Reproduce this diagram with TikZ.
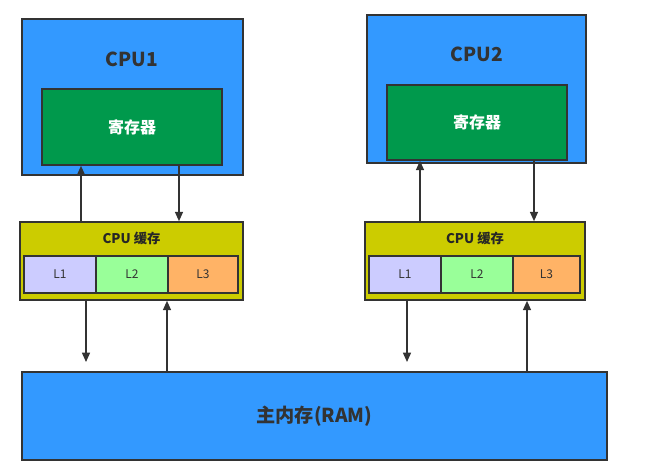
\documentclass[tikz,border=0pt]{standalone}
\usepackage{fontspec}
\setmainfont{Noto Sans CJK SC}
\usetikzlibrary{arrows.meta}
\definecolor{cpublue}{RGB}{51,153,255}
\definecolor{reggreen}{RGB}{0,153,76}
\definecolor{cacheyel}{RGB}{204,204,0}
\definecolor{lone}{RGB}{204,204,255}
\definecolor{ltwo}{RGB}{153,255,153}
\definecolor{lthree}{RGB}{255,179,102}
\definecolor{edge}{RGB}{51,51,51}
\tikzset{
  box/.style={draw=edge,line width=1.2pt,inner sep=0pt},
  cell/.style={box,line width=1pt,text=edge,font=\small},
  link/.style={draw=edge,line width=1.1pt,-{Triangle[length=7pt,width=6pt]}}
}
\begin{document}
\begin{tikzpicture}[x=0.75pt,y=-0.75pt]
\useasboundingbox (0,0) rectangle (667,463);
% CPU1
\node[box,fill=cpublue,minimum width=221*0.75pt,minimum height=156*0.75pt] (cpua) at (132.5,97) {};
\node[font=\bfseries\Large,text=edge] (cpualabel) at (132,59) {CPU1};
\node[box,fill=reggreen,minimum width=180*0.75pt,minimum height=76*0.75pt,text=white,font=\bfseries\large] (rega) at (132,127) {寄存器};
% CPU2
\node[box,fill=cpublue,minimum width=219*0.75pt,minimum height=148*0.75pt] (cpub) at (476.5,89) {};
\node[font=\bfseries\Large,text=edge] (cpublabel) at (477,54) {CPU2};
\node[box,fill=reggreen,minimum width=180*0.75pt,minimum height=75*0.75pt,text=white,font=\bfseries\large] (regb) at (477,122.5) {寄存器};
% caches
\node[box,fill=cacheyel,minimum width=223*0.75pt,minimum height=78*0.75pt] (cachea) at (131.5,261) {};
\node[font=\bfseries,text=black!85] (cachealabel) at (131.5,238) {CPU 缓存};
\node[cell,fill=lone,minimum width=72*0.75pt,minimum height=37*0.75pt] (aone) at (60,274.5) {L1};
\node[cell,fill=ltwo,minimum width=72*0.75pt,minimum height=37*0.75pt] (atwo) at (132,274.5) {L2};
\node[cell,fill=lthree,minimum width=70*0.75pt,minimum height=37*0.75pt] (athree) at (203,274.5) {L3};
\node[box,fill=cacheyel,minimum width=220*0.75pt,minimum height=78*0.75pt] (cacheb) at (475,261) {};
\node[font=\bfseries,text=black!85] (cacheblabel) at (475,238) {CPU 缓存};
\node[cell,fill=lone,minimum width=72*0.75pt,minimum height=37*0.75pt] (bone) at (405,274.5) {L1};
\node[cell,fill=ltwo,minimum width=72*0.75pt,minimum height=37*0.75pt] (btwo) at (477,274.5) {L2};
\node[cell,fill=lthree,minimum width=67*0.75pt,minimum height=37*0.75pt] (bthree) at (546.5,274.5) {L3};
% RAM
\node[box,fill=cpublue,minimum width=585*0.75pt,minimum height=88*0.75pt,font=\bfseries\Large,text=edge] (ram) at (314.5,416) {主内存(RAM)};
% links
\coordinate (rama) at (86,362);
\coordinate (ramb) at (407,362);
\draw[link] (cachea.north -| 81,0) -- (rega.south -| 81,0);
\draw[link] (rega.south -| 179,0) -- (cachea.north -| 179,0);
\draw[link] (cacheb.north -| 420,0) -- (regb.south -| 420,0);
\draw[link] (regb.south -| 534,0) -- (cacheb.north -| 534,0);
\draw[link] (cachea.south -| rama) -- (rama);
\draw[link] (ram.north -| 167,0) -- (cachea.south -| 167,0);
\draw[link] (cacheb.south -| ramb) -- (ramb);
\draw[link] (ram.north -| 527,0) -- (cacheb.south -| 527,0);
\end{tikzpicture}
\end{document}
